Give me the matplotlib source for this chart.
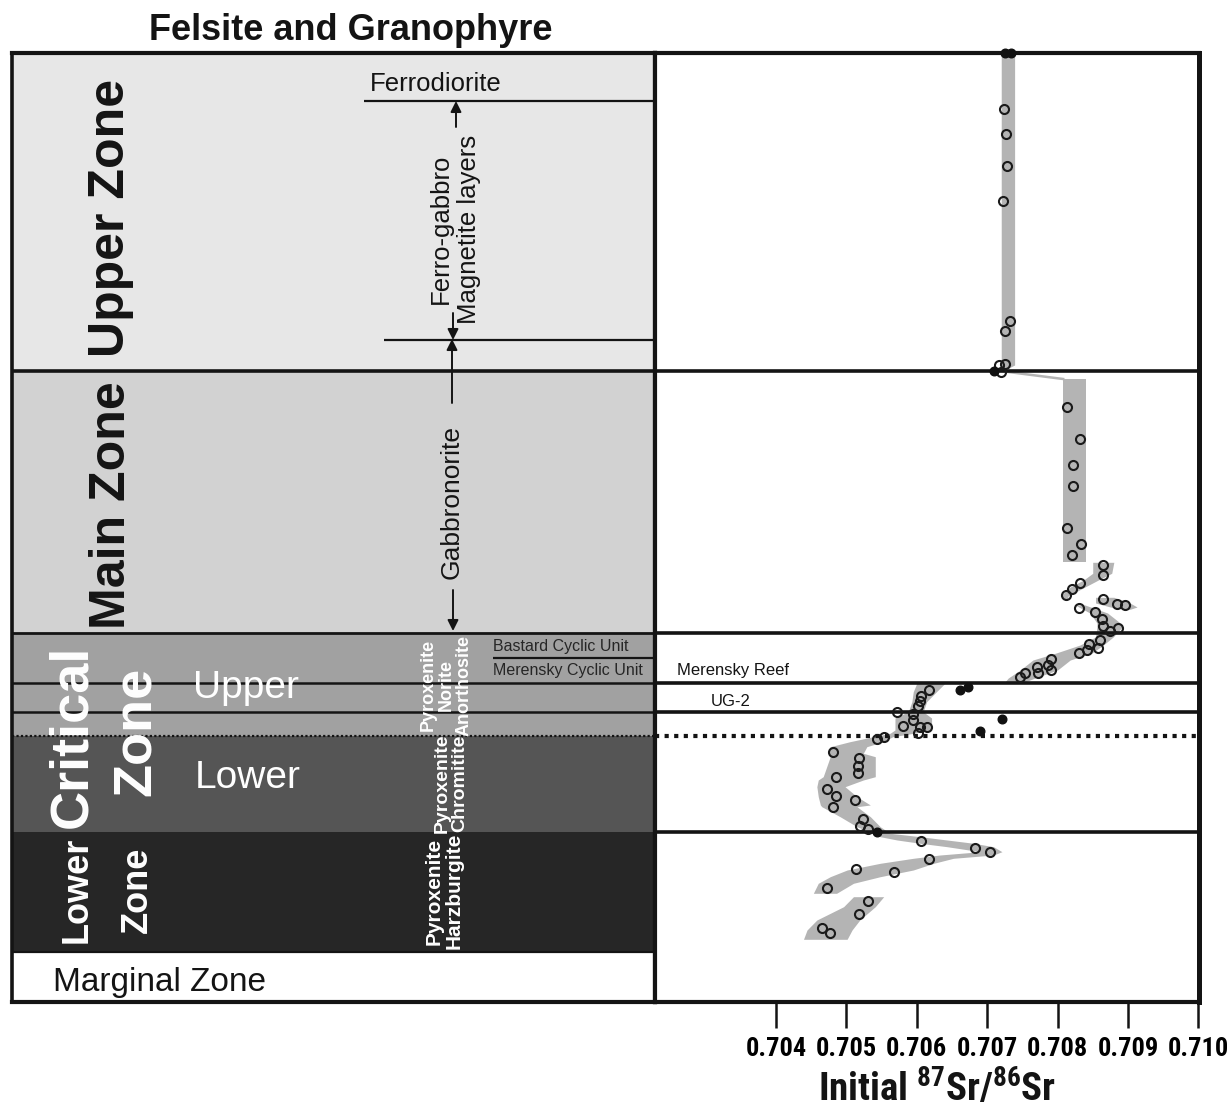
import matplotlib
matplotlib.use("Agg")
import matplotlib.pyplot as plt
import matplotlib.transforms as mtransforms
from matplotlib import font_manager

plt.rcParams["font.family"] = ["Liberation Sans", "DejaVu Sans"]
plt.rcParams["mathtext.default"] = "regular"

installed = {f.name for f in font_manager.fontManager.ttflist}
COND = None
for name in ["Liberation Sans Narrow", "Roboto Condensed"]:
    if name in installed:
        COND = name
        break
NARROW = [COND, "Liberation Sans", "DejaVu Sans"] if COND else ["Liberation Sans", "DejaVu Sans"]

# stratigraphic column, heights in relative units (0 = base of section)
zone_bottom = [0, 50, 170, 266, 369, 631]
zone_top = [50, 170, 266, 369, 631, 949]
zone_colors = ["white", "#262626", "#555555", "#a1a1a1", "#d2d2d2", "#e7e7e7"]

merensky_h = 319.5
ug2_h = 290
lower_upper_cz_h = 266
ferrodiorite_h = 901
magnetite_h = 662
cyclic_unit_h = 344

# Sr isotope data (initial 87Sr/86Sr vs height)
open_sr = [0.70724, 0.70727, 0.70728, 0.70722, 0.70732, 0.70725, 0.70717, 0.70726, 0.70720,
           0.70813, 0.70832, 0.70822, 0.70822, 0.70814, 0.70833, 0.70821,
           0.70865, 0.70864, 0.70832, 0.70820, 0.70812, 0.70864, 0.70884, 0.70896, 0.70830,
           0.70853, 0.70863, 0.70864, 0.70874, 0.70886, 0.70860, 0.70844, 0.70858, 0.70842,
           0.70831, 0.70791, 0.70786, 0.70791, 0.70771, 0.70772, 0.70754, 0.70746,
           0.70617, 0.70606, 0.70604, 0.70602, 0.70572, 0.70594, 0.70594, 0.70580, 0.70604,
           0.70614, 0.70602,
           0.70543, 0.70554, 0.70481, 0.70518, 0.70517, 0.70516, 0.70485, 0.70473, 0.70485,
           0.70481, 0.70512, 0.70523, 0.70520, 0.70531,
           0.70606, 0.70683, 0.70704, 0.70618, 0.70514, 0.70567, 0.70472, 0.70530, 0.70518,
           0.70465, 0.70477]
open_h = [893, 868, 836, 801, 681, 671, 637, 638, 630,
          595, 563, 537, 516, 474, 458, 447,
          437, 427, 419, 413, 407, 403, 398, 397, 394,
          390, 383, 376, 371, 374, 362, 358, 354, 352,
          349, 343, 337, 332, 335, 329, 329, 325,
          312, 306, 301, 296, 290, 288, 282, 276, 275,
          275, 269,
          263, 265, 250, 244, 236, 229, 225, 213, 206,
          195, 202, 183, 176, 173,
          161, 154, 150, 143, 133, 130, 114, 101, 88,
          74, 69]

filled_sr = [0.70725, 0.70734, 0.70709, 0.70662, 0.70673, 0.70721, 0.70690, 0.70543]
filled_h = [949, 949, 631, 312, 315, 283, 271, 170]

# grey envelope (trend band) pieces: height, low Sr, high Sr
band_uz_h = [949, 637, 631]
band_uz_lo = [0.70720, 0.70720, 0.70720]
band_uz_hi = [0.70739, 0.70739, 0.70722]

link_sr = [0.70719, 0.70808]
link_h = [631, 623]

band_mz_h = [623, 440]
band_mz_lo = [0.70808, 0.70808]
band_mz_hi = [0.70841, 0.70841]

band_c_h = [439.7, 428.7, 422, 415, 406, 402.7]
band_c_lo = [0.70850, 0.70850, 0.70837, 0.70818, 0.70804, 0.70812]
band_c_hi = [0.70880, 0.70877, 0.70858, 0.70839, 0.70815, 0.70814]

band_d_h = [404.7, 399, 395, 392.7]
band_d_lo = [0.70854, 0.70854, 0.70875, 0.70898]
band_d_hi = [0.70880, 0.70903, 0.70913, 0.70903]

band_e1_h = [397, 389, 379, 375, 365, 357, 349, 342, 332, 324, 319]
band_e1_lo = [0.70825, 0.70846, 0.70856, 0.70856, 0.70854, 0.70832, 0.70798, 0.70765,
              0.70747, 0.70730, 0.70724]
band_e1_hi = [0.70839, 0.70871, 0.70889, 0.70892, 0.70879, 0.70865, 0.70849, 0.70818,
              0.70800, 0.70768, 0.70750]

band_e2_h = [318.7, 310.3, 300.3, 290.3, 284, 272, 268.7, 265.3, 260.3, 255.3, 248.7,
             245.3, 225.3, 222, 215.3, 205.3, 197, 195.3, 185.3, 175.3, 168.7, 165.3,
             162, 158.7, 155.3, 150.3, 147, 143.7, 138.7, 132, 125.3, 118.7, 108.7]
band_e2_lo = [0.70600, 0.70595, 0.70593, 0.70588, 0.70569, 0.70569, 0.70562, 0.70538,
              0.70505, 0.70477, 0.70474, 0.70477, 0.70467, 0.70460, 0.70458, 0.70460,
              0.70463, 0.70465, 0.70491, 0.70515, 0.70538, 0.70548, 0.70572, 0.70605,
              0.70643, 0.70690, 0.70633, 0.70595, 0.70548, 0.70501, 0.70477, 0.70460,
              0.70453]
band_e2_hi = [0.70640, 0.70628, 0.70614, 0.70609, 0.70621, 0.70621, 0.70595, 0.70566,
              0.70552, 0.70529, 0.70524, 0.70541, 0.70541, 0.70524, 0.70498, 0.70515,
              0.70534, 0.70515, 0.70534, 0.70548, 0.70562, 0.70605, 0.70643, 0.70681,
              0.70709, 0.70721, 0.70709, 0.70652, 0.70624, 0.70595, 0.70548, 0.70510,
              0.70486]

band_f_h = [105.3, 95.3, 82, 72, 62.7]
band_f_lo = [0.70510, 0.70496, 0.70458, 0.70444, 0.70439]
band_f_hi = [0.70553, 0.70541, 0.70519, 0.70508, 0.70501]

tick_vals = [0.704, 0.705, 0.706, 0.707, 0.708, 0.709, 0.710]
tick_labels = ["0.704", "0.705", "0.706", "0.707", "0.708", "0.709", "0.710"]

W, H = 1227, 1118
fig = plt.figure(figsize=(W / 100, H / 100), dpi=100)


def px_box(x0, y0, x1, y1):
    return [x0 / W, 1 - y1 / H, (x1 - x0) / W, (y1 - y0) / H]


ax_col = fig.add_axes(px_box(12, 53, 655, 1002))
ax = fig.add_axes(px_box(655, 53, 1199, 1002))
ink = "#141414"

# ---- left: stratigraphic column ----
ax_col.set_xlim(0, 643)
ax_col.set_ylim(0, 949)
ax_col.set_xticks([])
ax_col.set_yticks([])
for b, t, c in zip(zone_bottom, zone_top, zone_colors):
    ax_col.axhspan(b, t, color=c, lw=0, zorder=0)

ax_col.axhline(zone_bottom[5], color=ink, lw=2.6)
ax_col.axhline(zone_bottom[4], color=ink, lw=2.0)
ax_col.axhline(merensky_h, color=ink, lw=1.8)
ax_col.axhline(ug2_h, color=ink, lw=1.8)
ax_col.axhline(lower_upper_cz_h, color=ink, lw=1.6, ls=(0, (1, 1)))
ax_col.axhline(zone_top[0], color=ink, lw=1.6)
ax_col.hlines(ferrodiorite_h, 352, 643, color=ink, lw=1.6)
ax_col.hlines(magnetite_h, 372, 643, color=ink, lw=1.6)
ax_col.hlines(cyclic_unit_h, 481, 643, color=ink, lw=1.6)

arrow = dict(arrowstyle="-|>", color=ink, lw=1.4, mutation_scale=16, shrinkA=0, shrinkB=0)
ax_col.annotate("", xy=(444, ferrodiorite_h), xytext=(444, 875), arrowprops=arrow)
ax_col.annotate("", xy=(441, magnetite_h), xytext=(441, 689), arrowprops=arrow)
ax_col.annotate("", xy=(440, magnetite_h + 1), xytext=(440, 599), arrowprops=arrow)
ax_col.annotate("", xy=(441, zone_bottom[4] + 2), xytext=(441, 412), arrowprops=arrow)

ax_col.text(99, 784, "Upper Zone", rotation=90, ha="center", va="center",
            fontsize=36, fontweight="bold", color=ink)
ax_col.text(100, 497, "Main Zone", rotation=90, ha="center", va="center",
            fontsize=36, fontweight="bold", color=ink)
ax_col.text(60, 266, "Critical", rotation=90, ha="center", va="center",
            fontsize=39, fontweight="bold", color="white")
ax_col.text(124, 271, "Zone", rotation=90, ha="center", va="center",
            fontsize=39, fontweight="bold", color="white")
ax_col.text(181, 314, "Upper", ha="left", va="center", fontsize=28, color="white")
ax_col.text(183, 224, "Lower", ha="left", va="center", fontsize=28, color="white")
ax_col.text(65, 112, "Lower", rotation=90, ha="center", va="center",
            fontsize=26, fontweight="bold", color="white")
ax_col.text(125, 112, "Zone", rotation=90, ha="center", va="center",
            fontsize=26, fontweight="bold", color="white")
ax_col.text(41, 20, "Marginal Zone", ha="left", va="center", fontsize=24, color=ink)

ax_col.text(358, 918, "Ferrodiorite", ha="left", va="center", fontsize=18.5, color=ink)
ax_col.text(443, 773, "Ferro-gabbro\nMagnetite layers", rotation=90, ha="center",
            va="center", multialignment="center", fontsize=18.5, color=ink)
ax_col.text(440, 500, "Gabbronorite", rotation=90, ha="center", va="center",
            fontsize=19, color=ink, bbox=dict(fc=zone_colors[4], ec="none", pad=1))
ax_col.text(434, 317, "Pyroxenite\nNorite\nAnorthosite", rotation=90, ha="center",
            va="center", multialignment="center", fontsize=13, fontweight="bold",
            color="white", linespacing=1.05)
ax_col.text(439, 219, "Pyroxenite\nChromitite", rotation=90, ha="center", va="center",
            multialignment="center", fontsize=14, fontweight="bold", color="white",
            linespacing=1.05)
ax_col.text(432, 111, "Pyroxenite\nHarzburgite", rotation=90, ha="center", va="center",
            multialignment="center", fontsize=15, fontweight="bold", color="white",
            linespacing=1.05)
ax_col.text(481, 356, "Bastard Cyclic Unit", ha="left", va="center", fontsize=11.5,
            color="#262626")
ax_col.text(481, 331, "Merensky Cyclic Unit", ha="left", va="center", fontsize=11.5,
            color="#262626")

for side, s in ax_col.spines.items():
    s.set_color(ink)
    s.set_linewidth(3.0 if side != "left" else 2.6)

# ---- right: Sr isotope profile ----
ax.set_xlim(0.70228, 0.71001)
ax.set_ylim(0, 949)
ax.set_yticks([])

band = "#b4b4b4"
for hh, lo, hi in [(band_uz_h, band_uz_lo, band_uz_hi), (band_mz_h, band_mz_lo, band_mz_hi),
                   (band_c_h, band_c_lo, band_c_hi), (band_d_h, band_d_lo, band_d_hi),
                   (band_e1_h, band_e1_lo, band_e1_hi), (band_e2_h, band_e2_lo, band_e2_hi),
                   (band_f_h, band_f_lo, band_f_hi)]:
    ax.fill_betweenx(hh, lo, hi, color=band, lw=0, zorder=1)
ax.plot(link_sr, link_h, color=band, lw=1.8, zorder=1)

for hline in [zone_bottom[5], zone_bottom[4], merensky_h, ug2_h, zone_bottom[2]]:
    ax.axhline(hline, color=ink, lw=2.6, zorder=2)
ax.axhline(lower_upper_cz_h, color=ink, lw=3.0, ls=(0, (1, 1.3)), zorder=2)

ax.plot(open_sr, open_h, "o", ms=6.5, mfc="none", mec="#1a1a1a", mew=1.5, zorder=4,
        clip_on=False)
ax.plot(filled_sr, filled_h, "o", ms=6.2, mfc="#111111", mec="#111111", mew=1, zorder=4,
        clip_on=False)

trans = mtransforms.blended_transform_factory(ax.transAxes, ax.transData)
ax.text(0.040, 331, "Merensky Reef", transform=trans, ha="left", va="center",
        fontsize=12, color=ink)
ax.text(0.140, 301, "UG-2", transform=trans, ha="center", va="center", fontsize=12,
        color=ink)

tick_fs = 19 if COND else 17
ax.set_xticks(tick_vals, labels=tick_labels, fontfamily=NARROW, fontweight="bold",
              fontsize=tick_fs)
ax.tick_params(axis="x", direction="out", length=19, width=1.8, pad=6, color=ink)
for side, s in ax.spines.items():
    s.set_color(ink)
    s.set_linewidth(3.0 if side != "right" else 3.6)

fig.text(351 / W, 1 - 31 / H, "Felsite and Granophyre", ha="center", va="center",
         fontsize=26, fontweight="bold", color=ink)
fig.text(937 / W, 1 - 1089 / H, r"Initial $^{87}$Sr/$^{86}$Sr", ha="center", va="center",
         fontsize=28 if COND else 26, fontweight="bold", fontfamily=NARROW, color=ink)

fig.savefig("out.png", dpi=100)
